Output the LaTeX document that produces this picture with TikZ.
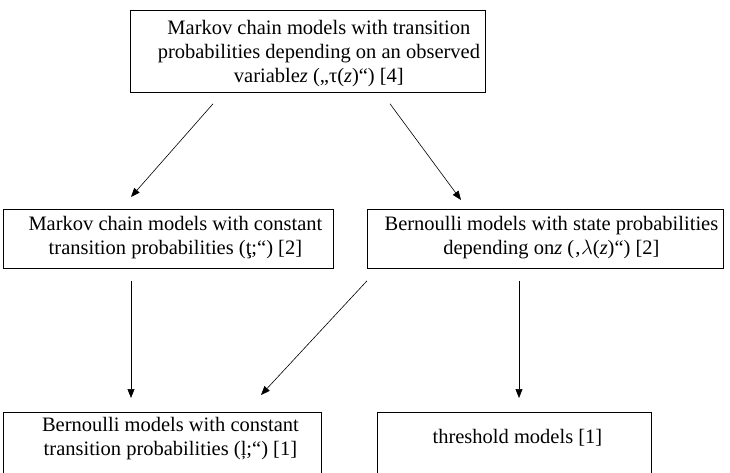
\documentclass[tikz,border=0pt]{standalone}
\usepackage{fontspec}
\setmainfont{Liberation Serif}
\usetikzlibrary{positioning,arrows.meta}

\tikzset{
  modelbox/.style={draw, line width=0.8pt, inner sep=0pt, anchor=north west},
  modeltext/.style={align=center, inner sep=0pt, font=\fontsize{20.5}{24}\selectfont},
  flow/.style={-{Triangle[length=9pt,width=7pt]}, line width=0.6pt}
}

\begin{document}
\begin{tikzpicture}[x=1pt,y=-1pt]
  \clip (0,0) rectangle (730,472);
  % top level
  \node[modelbox, minimum width=355pt, minimum height=82pt] (markovz) at (130,10) {};
  \node[modeltext] (markovzt) at ([xshift=11pt,yshift=-2pt]markovz.center)
    {Markov chain models with transition\\ probabilities depending on an observed\\ variable\textit{z} („τ(\textit{z})“) [4]};
  % middle level
  \node[modelbox, minimum width=330pt, minimum height=59pt] (markovc) at (3,209) {};
  \node[modeltext] (markovct) at ([xshift=7pt,yshift=1pt]markovc.center)
    {Markov chain models with constant\\ transition probabilities (ţ;“) [2]};
  \node[modelbox, minimum width=356pt, minimum height=59pt] (bernz) at (367,209) {};
  \node[modeltext] (bernzt) at ([xshift=6pt,yshift=1pt]bernz.center)
    {Bernoulli models with state probabilities\\ depending on\textit{z} (‚$\lambda$(\textit{z})“) [2]};
  % bottom level (cut at the lower edge)
  \node[modelbox, minimum width=318pt, minimum height=68pt] (bernc) at (3,412) {};
  \node[modeltext] (bernct) at ([xshift=8pt,yshift=-27pt]bernc.north)
    {Bernoulli models with constant\\ transition probabilities (ļ;“) [1]};
  \node[modelbox, minimum width=274pt, minimum height=68pt] (thresh) at (377,412) {};
  \node[modeltext] (thresht) at ([xshift=3pt,yshift=-26pt]thresh.north)
    {threshold models [1]};

  % connector ends
  \coordinate (a1) at ([xshift=83pt,yshift=-11pt]markovz.south west);
  \coordinate (a2) at ([xshift=128pt,yshift=12pt]markovc.north west);
  \coordinate (b1) at ([xshift=260pt,yshift=-11pt]markovz.south west);
  \coordinate (b2) at ([xshift=94pt,yshift=9pt]bernz.north west);
  \coordinate (c1) at ([xshift=128pt,yshift=-12pt]markovc.south west);
  \coordinate (c2) at ([xshift=128pt,yshift=14pt]bernc.north west);
  \coordinate (d1) at ([yshift=-12pt]bernz.south west);
  \coordinate (d2) at ([xshift=258pt,yshift=17pt]bernc.north west);
  \coordinate (e1) at ([xshift=152pt,yshift=-12pt]bernz.south west);
  \coordinate (e2) at ([xshift=142pt,yshift=14pt]thresh.north west);

  \draw[flow] (a1) -- (a2);
  \draw[flow] (b1) -- (b2);
  \draw[flow] (c1) -- (c2);
  \draw[flow] (d1) -- (d2);
  \draw[flow] (e1) -- (e2);
\end{tikzpicture}
\end{document}
